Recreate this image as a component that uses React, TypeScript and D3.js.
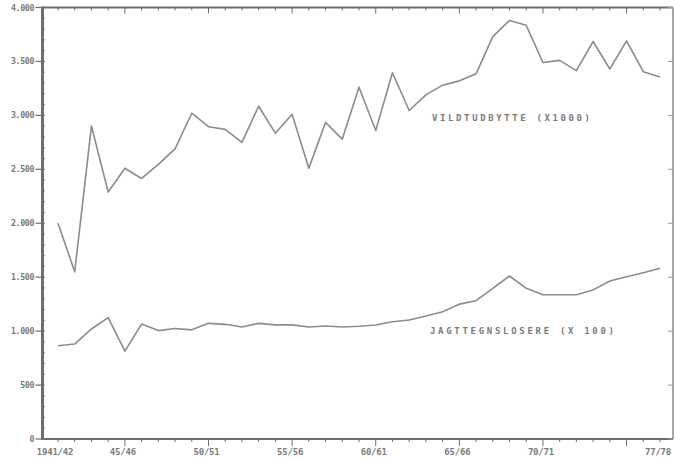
import React from "react";
import * as d3 from "d3";

const seasons = [
  "1941/42","1942/43","1943/44","1944/45","1945/46","1946/47","1947/48","1948/49","1949/50",
  "1950/51","1951/52","1952/53","1953/54","1954/55","1955/56","1956/57","1957/58","1958/59",
  "1959/60","1960/61","1961/62","1962/63","1963/64","1964/65","1965/66","1966/67","1967/68",
  "1968/69","1969/70","1970/71","1971/72","1972/73","1973/74","1974/75","1975/76","1976/77",
  "1977/78",
];

// VILDTUDBYTTE (x1000)
const vildtudbytte = [
  2000, 1550, 2900, 2290, 2510, 2415, 2545, 2690, 3020,
  2895, 2870, 2750, 3085, 2835, 3010, 2510, 2935, 2780,
  3260, 2860, 3395, 3045, 3190, 3280, 3320, 3385, 3730,
  3880, 3835, 3490, 3510, 3415, 3685, 3430, 3690, 3405,
  3355,
];

// JAGTTEGNSLOSERE (x100)
const jagttegnslosere = [
  865, 880, 1020, 1125, 815, 1065, 1005, 1025, 1012,
  1072, 1063, 1038, 1072, 1058, 1058, 1038, 1048, 1038,
  1045, 1057, 1087, 1103, 1140, 1180, 1250, 1282, 1397,
  1511, 1397, 1337, 1337, 1337, 1382, 1464, 1504, 1541,
  1582,
];

const xTickLabels: [number, string][] = [
  [0, "1941/42"], [4, "45/46"], [9, "50/51"], [14, "55/56"],
  [19, "60/61"], [24, "65/66"], [29, "70/71"], [36, "77/78"],
];
const xMajorTicks = [4, 9, 14, 19, 24, 29, 34];
const yTickValues = [0, 500, 1000, 1500, 2000, 2500, 3000, 3500, 4000];
const yTickLabels = ["0", "500", "1.000", "1.500", "2.000", "2.500", "3.000", "3.500", "4.000"];

const seriesLabels = ["VILDTUDBYTTE (X1000)", "JAGTTEGNSLOSERE (X 100)"];

export default function App() {
  const W = 675, H = 459;
  const left = 42.5, right = 673, top = 7.5, bottom = 439;
  const x = d3.scaleLinear().domain([0, seasons.length - 1]).range([58, 660]);
  const y = d3.scaleLinear().domain([0, 4000]).range([bottom, top]);
  const line = d3.line<number>().x((_, i) => x(i)).y((d) => y(d));
  const axisColor = "#6e6e6e";
  const lineColor = "#8c8c8c";
  const textColor = "#7a7a7a";
  const font = "'DejaVu Sans Mono', monospace";
  const minorY = d3.range(0, 4001, 100);

  return (
    <svg width={W} height={H} style={{ position: "absolute", left: 0, top: 0, background: "#fff" }}>
      {/* frame */}
      <line x1={left} x2={right} y1={top} y2={top} stroke={axisColor} strokeWidth={2} />
      <line x1={right} x2={right} y1={top} y2={bottom} stroke="#8a8a8a" strokeWidth={1.5} />
      <line x1={left} x2={left} y1={top - 1} y2={bottom + 1} stroke={axisColor} strokeWidth={3} />
      <line x1={left} x2={right} y1={bottom} y2={bottom} stroke={axisColor} strokeWidth={2} />

      {/* top ticks */}
      {seasons.map((_, i) => (
        <line key={"tt" + i} x1={x(i)} x2={x(i)} y1={top} y2={top + (xMajorTicks.includes(i) ? 6 : 3)}
          stroke={axisColor} strokeWidth={1} />
      ))}
      {/* bottom ticks */}
      {seasons.map((_, i) => (
        <line key={"bt" + i} x1={x(i)} x2={x(i)} y1={bottom} y2={bottom + (xMajorTicks.includes(i) ? 7 : 3)}
          stroke={axisColor} strokeWidth={1} />
      ))}
      {/* left minor ticks */}
      {minorY.map((v) => (
        <line key={"ym" + v} x1={left} x2={left + 2.5} y1={y(v)} y2={y(v)} stroke={axisColor} strokeWidth={0.8} />
      ))}
      {/* left major ticks + labels */}
      {yTickValues.map((v, i) => (
        <g key={"yt" + v}>
          <line x1={left - 7} x2={left} y1={y(v)} y2={y(v)} stroke={axisColor} strokeWidth={1.2} />
          <text x={34} y={y(v) + 3} textAnchor="end" fontFamily={font} fontSize={8.3} fontWeight="bold"
            fill={textColor} letterSpacing={-0.4}>
            {yTickLabels[i]}
          </text>
        </g>
      ))}
      {/* right ticks */}
      {yTickValues.map((v) => (
        <line key={"yr" + v} x1={right - 5} x2={right} y1={y(v)} y2={y(v)} stroke="#999" strokeWidth={1} />
      ))}

      {/* x labels */}
      {xTickLabels.map(([i, lab]) => (
        <text key={"xl" + i} x={x(i) - (i === 0 ? 3 : 2)} y={455} textAnchor="middle" fontFamily={font}
          fontSize={9} fontWeight="bold" fill={textColor} letterSpacing={-0.2}>
          {lab}
        </text>
      ))}

      {/* series */}
      <path d={line(vildtudbytte) || ""} fill="none" stroke={lineColor} strokeWidth={1.6} strokeLinejoin="round" />
      <path d={line(jagttegnslosere) || ""} fill="none" stroke={lineColor} strokeWidth={1.6} strokeLinejoin="round" />

      <text x={432} y={121} fontFamily={font} fontSize={9} fontWeight="bold" fill={textColor}
        textLength={158} lengthAdjust="spacing">
        {seriesLabels[0]}
      </text>
      <text x={430} y={334} fontFamily={font} fontSize={9} fontWeight="bold" fill={textColor}
        textLength={184} lengthAdjust="spacing">
        {seriesLabels[1]}
      </text>
    </svg>
  );
}
